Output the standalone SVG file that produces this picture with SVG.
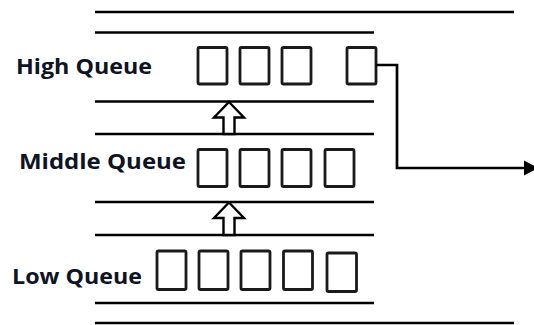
<svg xmlns="http://www.w3.org/2000/svg" width="534" height="325" viewBox="0 0 534 325">
  <style>
    .ln { stroke: #000; stroke-width: 2.7; fill: none; }
    .box { stroke: #1a1a1a; stroke-width: 2.8; fill: #fff; }
    .up { stroke: #000; stroke-width: 2.4; fill: #fff; stroke-linejoin: miter; }
    .lbl { font-family: "Open Sans", "Liberation Sans", Arial, sans-serif; font-weight: bold; font-size: 22px; fill: #0e1424; }
    .conn { stroke: #000; stroke-width: 2.7; fill: none; }
  </style>
  <rect width="534" height="325" fill="#fff"/>

  <g id="lanes">
    <line class="ln" x1="95" y1="12" x2="514" y2="12"/>
    <line class="ln" x1="95" y1="32.5" x2="374" y2="32.5"/>
    <line class="ln" x1="95" y1="101.5" x2="374" y2="101.5"/>
    <line class="ln" x1="95" y1="134" x2="374" y2="134"/>
    <line class="ln" x1="95" y1="202" x2="374" y2="202"/>
    <line class="ln" x1="95" y1="235" x2="374" y2="235"/>
    <line class="ln" x1="95" y1="303" x2="374" y2="303"/>
    <line class="ln" x1="95" y1="323" x2="514" y2="323"/>
  </g>

  <g id="high-queue">
    <text class="lbl" x="16" y="74" textLength="136" lengthAdjust="spacingAndGlyphs">High Queue</text>
    <rect class="box" x="198" y="47.5" width="29" height="36.5" rx="1.5"/>
    <rect class="box" x="240" y="47.5" width="29" height="36.5" rx="1.5"/>
    <rect class="box" x="282" y="47.5" width="29" height="36.5" rx="1.5"/>
    <rect class="box" x="347" y="47.5" width="29" height="36.5" rx="1.5"/>
  </g>

  <g id="middle-queue">
    <text class="lbl" x="19" y="169" textLength="167" lengthAdjust="spacingAndGlyphs">Middle Queue</text>
    <rect class="box" x="198" y="149.5" width="29" height="37" rx="1.5"/>
    <rect class="box" x="240" y="149.5" width="29" height="37" rx="1.5"/>
    <rect class="box" x="282" y="149.5" width="29" height="37" rx="1.5"/>
    <rect class="box" x="325" y="149.5" width="29" height="37" rx="1.5"/>
  </g>

  <g id="low-queue">
    <text class="lbl" x="12" y="284" textLength="130" lengthAdjust="spacingAndGlyphs">Low Queue</text>
    <rect class="box" x="157" y="251" width="29" height="38.5" rx="1.5"/>
    <rect class="box" x="199" y="251" width="29" height="38.5" rx="1.5"/>
    <rect class="box" x="241" y="251" width="29" height="38.5" rx="1.5"/>
    <rect class="box" x="283.5" y="251" width="29" height="38.5" rx="1.5"/>
    <rect class="box" x="327" y="253" width="29.5" height="38.5" rx="1.5"/>
  </g>

  <g id="connectors">
    <polygon class="up" points="229,102 244,117.5 234.5,117.5 234.5,134 223.5,134 223.5,117.5 214,117.5"/>
    <polygon class="up" points="229,202.5 244,218 234.5,218 234.5,235 223.5,235 223.5,218 214,218"/>
    <polyline class="conn" points="376,65 397,65 397,168 526,168"/>
    <polygon points="524,160.5 538,168 524,175.5" fill="#000"/>
  </g>
</svg>
